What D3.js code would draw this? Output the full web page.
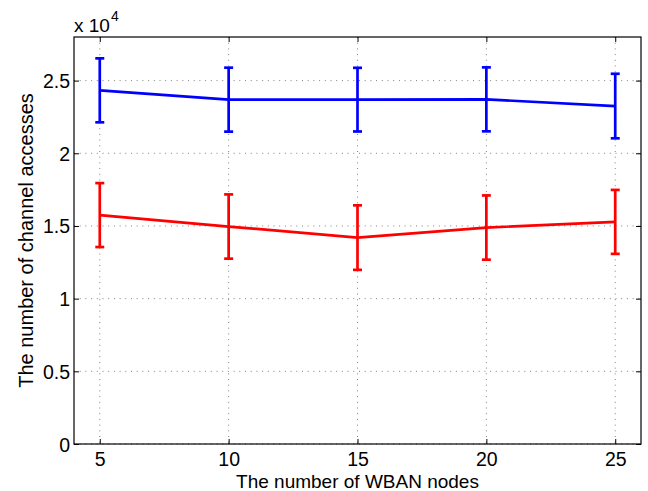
<!DOCTYPE html>
<html>
<head>
<meta charset="utf-8">
<script src="https://cdn.jsdelivr.net/npm/d3@7"></script>
<style>
	body { margin: 0; background: #fff; }
	text { font-family: "Liberation Sans", Arial, sans-serif; fill: #000; }
</style>
</head>
<body>
<div id="chart"></div>
<script>
//number of WBAN nodes on the x axis
var nodes = [5, 10, 15, 20, 25];
//upper (blue) series: mean and half-width of the error bar
var blueMean = [24330, 23690, 23690, 23710, 23250];
var blueErr  = [2200, 2200, 2190, 2200, 2220];
//lower (red) series
var redMean = [15750, 14960, 14200, 14890, 15280];
var redErr  = [2200, 2210, 2220, 2210, 2200];
//tick values and labels
var xTicks = [5, 10, 15, 20, 25];
var yTicks = [0, 5000, 10000, 15000, 20000, 25000];
var yTickLabels = ["0", "0.5", "1", "1.5", "2", "2.5"];

var W = 648, H = 491;
var margin = {top: 37, right: 7, bottom: 47, left: 74};
var w = W - margin.left - margin.right,
	h = H - margin.top - margin.bottom;

var svg = d3.select("#chart").append("svg")
	.attr("width", W)
	.attr("height", H);

var g = svg.append("g")
	.attr("transform", "translate(" + margin.left + "," + margin.top + ")");

var x = d3.scaleLinear().domain([4, 26]).range([0, w]);
var y = d3.scaleLinear().domain([0, 28000]).range([h, 0]);

/////////////////////////////////////////////////////////
/////////////////////// Grid ////////////////////////////
/////////////////////////////////////////////////////////

g.selectAll(".gridX")
	.data(xTicks)
	.join("line")
	.attr("class", "gridX")
	.attr("x1", function(d){ return x(d); })
	.attr("x2", function(d){ return x(d); })
	.attr("y1", 0)
	.attr("y2", h)
	.style("stroke", "#808080")
	.style("stroke-width", 1)
	.style("stroke-dasharray", "1,4.7");

g.selectAll(".gridY")
	.data(yTicks)
	.join("line")
	.attr("class", "gridY")
	.attr("x1", 0)
	.attr("x2", w)
	.attr("y1", function(d){ return y(d); })
	.attr("y2", function(d){ return y(d); })
	.style("stroke", "#808080")
	.style("stroke-width", 1)
	.style("stroke-dasharray", "1,4.7");

/////////////////////////////////////////////////////////
/////////////////////// Axes ////////////////////////////
/////////////////////////////////////////////////////////

//inward ticks on all four sides, MATLAB style
var xAxis = g.append("g")
	.attr("transform", "translate(0," + h + ")")
	.call(d3.axisBottom(x).tickValues(xTicks).tickSizeInner(-5).tickSizeOuter(0).tickPadding(8));
var xAxisTop = g.append("g")
	.call(d3.axisTop(x).tickValues(xTicks).tickSizeInner(-5).tickSizeOuter(0).tickFormat(""));
var yAxis = g.append("g")
	.call(d3.axisLeft(y).tickValues(yTicks).tickSizeInner(-5).tickSizeOuter(0).tickPadding(4)
		.tickFormat(function(d, i){ return yTickLabels[i]; }));
var yAxisRight = g.append("g")
	.attr("transform", "translate(" + w + ",0)")
	.call(d3.axisRight(y).tickValues(yTicks).tickSizeInner(-5).tickSizeOuter(0).tickFormat(""));

[xAxis, xAxisTop, yAxis, yAxisRight].forEach(function(a){
	a.select(".domain").remove();
	a.selectAll("line").style("stroke", "#000").style("stroke-width", 1);
	a.selectAll("text").style("font-size", "19.5px").style("font-family", "Liberation Sans, Arial, sans-serif");
});
yAxis.selectAll("text").attr("dy", "0.36em");

//box
g.append("rect")
	.attr("x", 0).attr("y", 0)
	.attr("width", w).attr("height", h)
	.style("fill", "none")
	.style("stroke", "#000")
	.style("stroke-width", 1.2);

/////////////////////////////////////////////////////////
///////////////////// Series ////////////////////////////
/////////////////////////////////////////////////////////

var series = [
	{mean: blueMean, err: blueErr, color: "#0000ff"},
	{mean: redMean, err: redErr, color: "#ff0000"}
];

var line = d3.line()
	.x(function(d){ return x(d.n); })
	.y(function(d){ return y(d.m); });

var capHalf = 4.5;

series.forEach(function(s){
	var pts = nodes.map(function(n, i){ return {n: n, m: s.mean[i], e: s.err[i]}; });

	g.append("path")
		.datum(pts)
		.attr("d", line)
		.style("fill", "none")
		.style("stroke", s.color)
		.style("stroke-width", 2.7);

	var bars = g.append("g").selectAll("g")
		.data(pts)
		.join("g")
		.style("stroke", s.color)
		.style("stroke-width", 2.7);

	bars.append("line")
		.attr("x1", function(d){ return x(d.n); })
		.attr("x2", function(d){ return x(d.n); })
		.attr("y1", function(d){ return y(d.m + d.e); })
		.attr("y2", function(d){ return y(d.m - d.e); });
	bars.append("line")
		.attr("x1", function(d){ return x(d.n) - capHalf; })
		.attr("x2", function(d){ return x(d.n) + capHalf; })
		.attr("y1", function(d){ return y(d.m + d.e); })
		.attr("y2", function(d){ return y(d.m + d.e); });
	bars.append("line")
		.attr("x1", function(d){ return x(d.n) - capHalf; })
		.attr("x2", function(d){ return x(d.n) + capHalf; })
		.attr("y1", function(d){ return y(d.m - d.e); })
		.attr("y2", function(d){ return y(d.m - d.e); });
});

/////////////////////////////////////////////////////////
///////////////////// Labels ////////////////////////////
/////////////////////////////////////////////////////////

//exponent label above the y axis
var expo = svg.append("text")
	.attr("x", margin.left)
	.attr("y", 32)
	.style("font-size", "19px");
expo.append("tspan").text("x 10");
expo.append("tspan").attr("dy", -11).attr("dx", 1).style("font-size", "14px").text("4");

svg.append("text")
	.attr("x", margin.left + w / 2)
	.attr("y", 488)
	.attr("text-anchor", "middle")
	.style("font-size", "19px")
	.text("The number of WBAN nodes");

svg.append("text")
	.attr("transform", "translate(33," + (margin.top + h / 2) + ") rotate(-90)")
	.attr("text-anchor", "middle")
	.style("font-size", "20px")
	.text("The number of channel accesses");
</script>
</body>
</html>
